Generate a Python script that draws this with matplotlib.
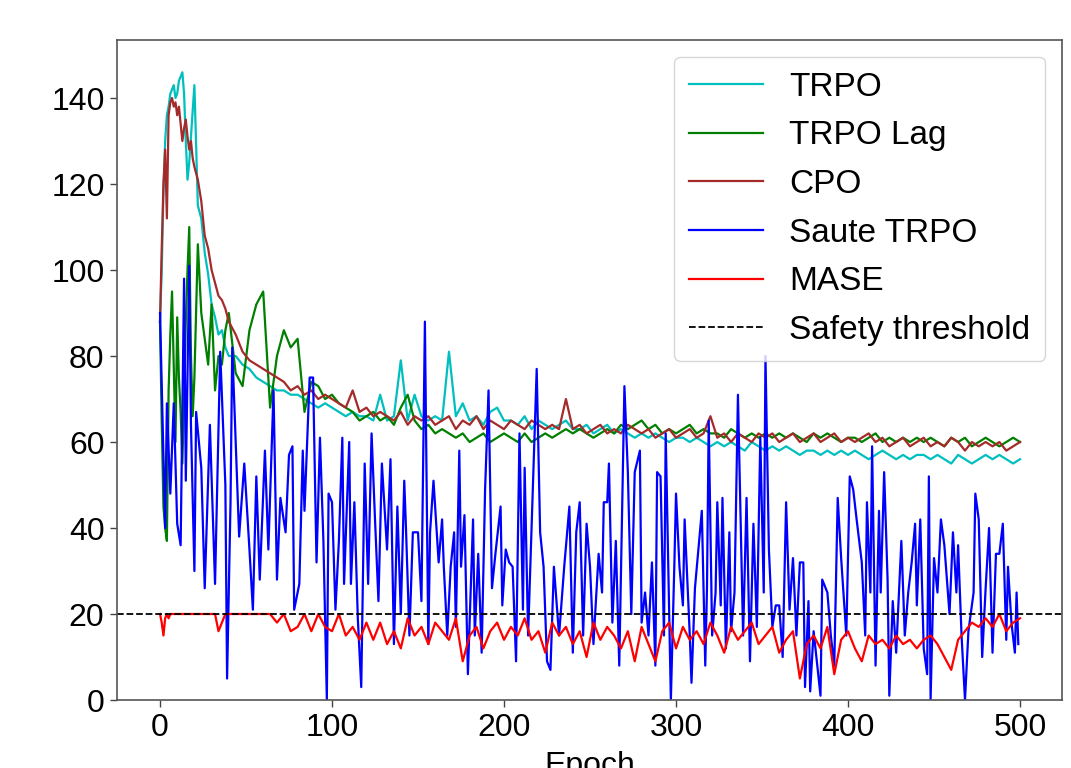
import matplotlib
matplotlib.use("Agg")
import matplotlib.pyplot as plt

plt.rcParams['font.family'] = ['Liberation Sans', 'DejaVu Sans']

# ---------------- data ----------------
epochs = (list(range(0, 21)) + list(range(22, 41, 2)) + list(range(44, 501, 4)))

trpo = [88, 100, 118, 130, 136, 138, 141, 142, 143, 140, 141, 144, 145, 146, 141, 130, 121, 125, 131, 137, 143,
        115, 112, 104, 99, 92, 89, 85, 86, 82, 80,
        80, 78, 77, 75, 74, 73, 72, 72, 71, 71,
        70, 69, 68, 69, 68, 67, 66, 67, 66, 66,
        65, 71, 65, 66, 79, 65, 71, 66, 65, 66,
        65, 81, 66, 69, 65, 66, 64, 67, 68, 65,
        65, 64, 66, 63, 65, 64, 63, 64, 65, 63,
        63, 64, 62, 63, 64, 62, 63, 62, 61, 62,
        61, 62, 61, 60, 61, 61, 60, 61, 60, 59,
        60, 59, 60, 59, 58, 60, 59, 58, 59, 58,
        59, 58, 57, 58, 58, 57, 58, 57, 58, 57,
        58, 57, 56, 57, 58, 57, 56, 57, 56, 57,
        57, 56, 57, 56, 55, 57, 56, 55, 56, 57,
        56, 57, 56, 55, 56]

trpo_lag = [88, 65, 45, 40, 37, 72, 85, 95, 78, 60, 89, 75, 67, 55, 70, 88, 100, 110, 80, 66, 75,
            106, 90, 84, 78, 92, 72, 80, 78, 86, 90,
            76, 73, 86, 92, 95, 68, 80, 86, 82, 84,
            67, 74, 73, 70, 71, 69, 68, 67, 65, 66,
            67, 65, 66, 64, 68, 71, 65, 63, 64, 62,
            63, 62, 61, 62, 60, 61, 62, 60, 61, 62,
            61, 60, 62, 60, 61, 62, 61, 62, 63, 62,
            63, 62, 61, 62, 63, 62, 64, 63, 64, 65,
            63, 64, 62, 63, 62, 63, 64, 62, 63, 62,
            62, 61, 63, 62, 61, 62, 61, 62, 61, 62,
            61, 62, 61, 60, 62, 61, 62, 61, 60, 61,
            61, 60, 61, 62, 60, 61, 60, 61, 60, 61,
            60, 61, 60, 59, 61, 60, 61, 59, 60, 61,
            60, 59, 60, 61, 60]

cpo = [88, 105, 120, 128, 112, 136, 139, 140, 138, 139, 136, 138, 134, 130, 133, 135, 131, 128, 130, 126, 124,
       121, 116, 108, 105, 100, 97, 94, 93, 91, 88,
       85, 81, 79, 78, 77, 76, 75, 74, 72, 73,
       71, 72, 70, 71, 70, 69, 68, 72, 67, 68,
       66, 67, 66, 65, 67, 64, 66, 65, 66, 64,
       65, 66, 63, 65, 64, 66, 63, 65, 64, 63,
       65, 64, 63, 65, 64, 63, 64, 63, 70, 63,
       64, 62, 63, 64, 62, 63, 62, 64, 63, 62,
       63, 61, 62, 63, 61, 62, 63, 61, 62, 66,
       61, 62, 60, 62, 61, 60, 62, 61, 62, 60,
       61, 62, 60, 61, 62, 60, 61, 62, 60, 61,
       60, 61, 62, 60, 61, 59, 60, 61, 59, 60,
       61, 59, 60, 59, 61, 60, 58, 60, 59, 60,
       59, 60, 58, 59, 60]

mase = [20, 18, 15, 19, 20, 19, 20, 20, 20, 20, 20, 20, 20, 20, 20, 20, 20, 20, 20, 20, 20,
        20, 20, 20, 20, 20, 20, 16, 18, 20, 20,
        20, 20, 20, 20, 20, 20, 18, 20, 16, 17,
        20, 16, 20, 17, 16, 20, 15, 17, 14, 18,
        14, 18, 13, 16, 12, 19, 15, 17, 13, 18,
        16, 14, 19, 9, 15, 17, 12, 16, 18, 14,
        17, 15, 19, 14, 16, 11, 18, 15, 17, 13,
        16, 10, 18, 14, 17, 15, 12, 16, 9, 17,
        13, 9, 16, 18, 12, 17, 14, 16, 13, 18,
        15, 11, 17, 14, 16, 18, 13, 15, 17, 11,
        14, 16, 5, 13, 15, 12, 17, 6, 14, 16,
        12, 9, 15, 13, 14, 12, 15, 13, 14, 12,
        14, 15, 13, 10, 7, 14, 16, 18, 17, 19,
        17, 20, 16, 18, 19]

saute_epochs = [0, 3, 4, 6, 8, 10, 12, 14, 15, 17, 18, 20, 21, 24, 26, 29, 32, 35, 38, 39,
                41, 42, 44, 46, 49, 52, 54, 56, 58, 61, 63, 66, 68, 70, 73, 75, 77, 78, 81, 83,
                84, 87, 89, 91, 93, 95, 97, 98, 100, 102, 104, 106, 107, 110, 111, 113, 115, 117, 119, 121,
                123, 125, 127, 129, 132, 134, 136, 138, 140, 142, 143, 145, 147, 150, 152, 154, 156, 157, 159, 162,
                164, 165, 167, 169, 171, 172, 174, 175, 177, 179, 182, 183, 185, 187, 189, 191, 193, 195, 198, 199,
                201, 203, 205, 207, 209, 211, 212, 214, 216, 219, 221, 223, 225, 227, 229, 232, 235, 238, 240, 242,
                244, 246, 248, 250, 252, 255, 257, 258, 260, 261, 263, 265, 267, 270, 272, 274, 276, 279, 280, 282,
                284, 286, 288, 289, 291, 293, 294, 297, 299, 300, 302, 304, 305, 308, 309, 311, 313, 315, 317, 318,
                319, 321, 323, 324, 326, 327, 329, 331, 332, 334, 336, 339, 341, 343, 345, 347, 349, 351, 352, 354,
                356, 358, 360, 362, 364, 366, 368, 370, 372, 374, 375, 377, 378, 380, 384, 385, 388, 390, 392, 394,
                396, 399, 401, 403, 405, 408, 410, 411, 413, 414, 416, 418, 419, 421, 423, 424, 426, 428, 431, 433,
                435, 437, 439, 440, 442, 444, 446, 447, 448, 450, 452, 454, 456, 459, 461, 463, 464, 466, 468, 470,
                473, 474, 476, 478, 480, 482, 484, 486, 488, 490, 492, 493, 495, 497, 498, 499]
saute = [90, 40, 69, 48, 69, 41, 36, 98, 51, 101, 64, 30, 67, 54, 26, 64, 27, 81, 50, 5,
         46, 82, 60, 38, 55, 35, 21, 52, 28, 58, 35, 72, 28, 47, 39, 57, 59, 21, 27, 58,
         44, 75, 75, 32, 61, 37, 0, 48, 46, 21, 37, 61, 27, 60, 27, 46, 19, 3, 55, 27,
         62, 42, 23, 55, 35, 56, 13, 45, 20, 51, 40, 15, 39, 39, 23, 88, 13, 39, 51, 32,
         42, 31, 15, 31, 39, 17, 58, 31, 43, 6, 42, 15, 34, 11, 49, 72, 26, 34, 45, 22,
         35, 32, 31, 9, 62, 21, 54, 15, 40, 77, 39, 31, 9, 7, 31, 15, 31, 45, 11, 39,
         46, 15, 41, 31, 13, 34, 25, 46, 46, 55, 18, 37, 8, 73, 53, 20, 53, 58, 18, 25,
         15, 32, 8, 53, 52, 15, 62, 0, 31, 48, 31, 22, 42, 15, 4, 26, 35, 44, 8, 26,
         65, 15, 25, 46, 22, 47, 12, 39, 16, 25, 71, 15, 47, 9, 41, 17, 61, 25, 80, 35,
         17, 22, 22, 10, 46, 21, 33, 15, 32, 32, 3, 23, 2, 16, 1, 28, 25, 15, 8, 47,
         33, 15, 52, 49, 42, 32, 15, 46, 25, 59, 8, 44, 25, 53, 28, 1, 23, 11, 37, 15,
         25, 32, 41, 22, 42, 12, 6, 52, 0, 33, 25, 42, 36, 20, 39, 25, 36, 15, 0, 16,
         25, 48, 42, 10, 26, 40, 11, 34, 34, 41, 14, 31, 18, 11, 25, 13]

threshold = 20
x_ticks = [0, 100, 200, 300, 400, 500]
y_ticks = [0, 20, 40, 60, 80, 100, 120, 140]

# ---------------- figure ----------------
fig = plt.figure(figsize=(10.71, 7.68), dpi=100)
ax = fig.add_axes([117 / 1071, 1 - 700 / 768, (1062 - 117) / 1071, (700 - 40) / 768])

lw = 1.6
ax.plot(epochs, trpo, color='c', lw=lw, label='TRPO')
ax.plot(epochs, trpo_lag, color='g', lw=lw, label='TRPO Lag')
ax.plot(epochs, cpo, color='brown', lw=lw, label='CPO')
ax.plot(saute_epochs, saute, color='b', lw=lw, label='Saute TRPO')
ax.plot(epochs, mase, color='r', lw=lw, label='MASE')
ax.axhline(threshold, color='k', ls='--', lw=1.3, label='Safety threshold')

ax.set_xlim(-25, 524.4)
ax.set_ylim(0, 153.5)
ax.set_xticks(x_ticks)
ax.set_yticks(y_ticks)
ax.tick_params(labelsize=23, length=5, width=1.0, color='#444', pad=4)
for s in ax.spines.values():
    s.set_color('#555')
    s.set_linewidth(1.2)
ax.set_xlabel('Epoch', fontsize=23, labelpad=6)

ax.legend(loc='upper right', fontsize=24, handlelength=2.2, labelspacing=0.53,
          handletextpad=0.8, borderpad=0.45)

fig.savefig('out.png', dpi=100)
